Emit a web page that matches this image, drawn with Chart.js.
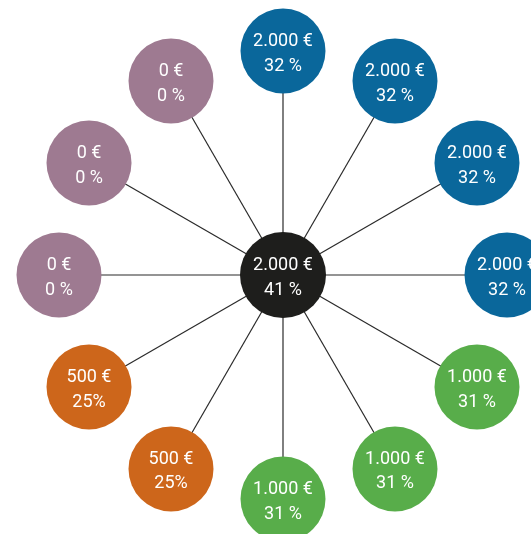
<!DOCTYPE html>
<html>
<head>
<meta charset="utf-8">
<script src="https://cdn.jsdelivr.net/npm/chart.js@4/dist/chart.umd.min.js"></script>
<style>
  html, body { margin: 0; padding: 0; background: #fff; }
  #wrap { width: 531px; height: 534px; }
</style>
</head>
<body>
<div id="wrap"><canvas id="spokes" width="531" height="534"></canvas></div>
<script>
// outer circles, clockwise from the top
const amounts = ['2.000 €', '2.000 €', '2.000 €', '2.000 €', '1.000 €', '1.000 €', '1.000 €', '500 €', '500 €', '0 €', '0 €', '0 €']
const percents = ['32 %', '32 %', '32 %', '32 %', '31 %', '31 %', '31 %', '25%', '25%', '0 %', '0 %', '0 %']
const circleColors = ['#0a679b', '#0a679b', '#0a679b', '#0a679b', '#58ad4a', '#58ad4a', '#58ad4a', '#cd661b', '#cd661b', '#9e7a91', '#9e7a91', '#9e7a91']
const spokeValues = [1, 1, 1, 1, 1, 1, 1, 1, 1, 1, 1, 1]

// middle circle
const centerAmount = '2.000 €'
const centerPercent = '41 %'
const centerColor = '#1e1e1c'

const textPlugin = {
  id: 'circleText',
  afterDatasetsDraw(chart) {
    const ctx = chart.ctx
    ctx.save()
    ctx.fillStyle = '#ffffff'
    ctx.font = '18px Roboto'
    ctx.textAlign = 'center'
    ctx.textBaseline = 'alphabetic'
    chart.data.datasets.forEach((ds, i) => {
      const meta = chart.getDatasetMeta(i)
      meta.data.forEach((pt, j) => {
        if (ds.data[j] === null) return
        ctx.fillText(ds.amountText[j], pt.x, pt.y - 5)
        ctx.fillText(ds.percentText[j], pt.x, pt.y + 19.5)
      })
    })
    ctx.restore()
  }
}

const centerData = spokeValues.map((v, i) => i === 0 ? 0 : null)

const config = {
  type: 'radar',
  data: {
    labels: amounts,
    datasets: [
      {
        data: centerData,
        amountText: [centerAmount],
        percentText: [centerPercent],
        pointRadius: 43,
        pointHoverRadius: 43,
        pointBackgroundColor: centerColor,
        pointBorderWidth: 0,
        borderWidth: 0,
        backgroundColor: 'transparent',
        fill: false,
        clip: false
      },
      {
        data: spokeValues,
        amountText: amounts,
        percentText: percents,
        pointRadius: 42.5,
        pointHoverRadius: 42.5,
        pointBackgroundColor: circleColors,
        pointBorderWidth: 0,
        borderWidth: 0,
        backgroundColor: 'transparent',
        fill: false,
        clip: false
      }
    ]
  },
  options: {
    responsive: false,
    animation: false,
    events: [],
    layout: {
      padding: { left: 59, right: 24, top: 51, bottom: 35 }
    },
    plugins: {
      legend: { display: false },
      tooltip: { enabled: false }
    },
    scales: {
      r: {
        min: 0,
        max: 1,
        ticks: { display: false },
        grid: { display: false },
        pointLabels: { display: false },
        angleLines: { display: true, color: '#2a2a2a', lineWidth: 1.2 }
      }
    }
  },
  plugins: [textPlugin]
}

new Chart(document.getElementById('spokes'), config)
</script>
</body>
</html>
